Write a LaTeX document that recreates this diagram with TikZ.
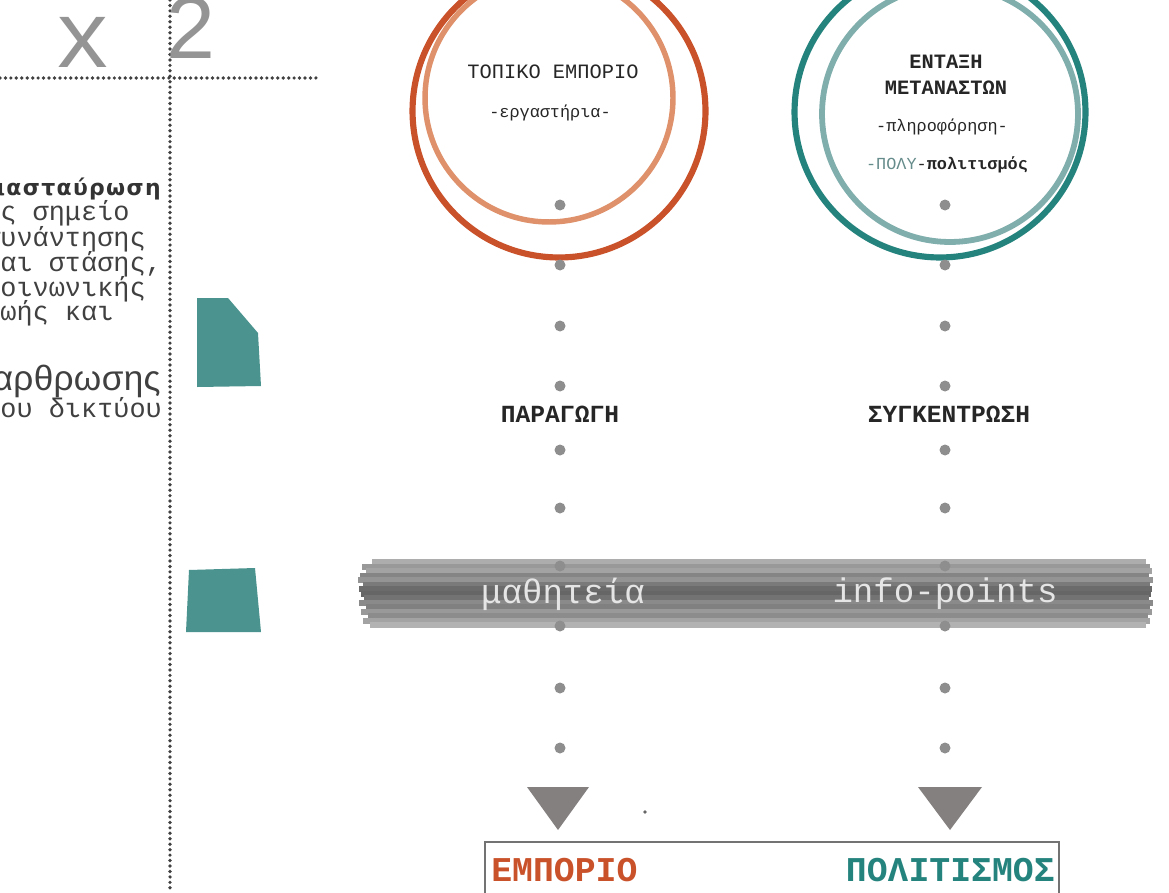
\documentclass[tikz,border=0pt]{standalone}
\usepackage{fontspec}
\setmainfont{Liberation Serif}
\setmonofont{Liberation Mono}
\newfontfamily\boldsans[LetterSpace=6]{DejaVu Sans}
\newfontfamily\widesans[LetterSpace=1]{Liberation Sans}
\newfontfamily\plainsans{Liberation Sans}

\definecolor{rust}{HTML}{C9522B}
\definecolor{salmon}{HTML}{DE916A}
\definecolor{migteal}{HTML}{25837E}
\definecolor{paleteal}{HTML}{7FAEAD}
\definecolor{blockteal}{HTML}{4B938E}
\definecolor{dotgray}{HTML}{8E8E8E}
\definecolor{trigray}{HTML}{858080}

\begin{document}
\begin{tikzpicture}[x=0.02cm,y=-0.02cm,
  gridline/.style={line width=2.1pt,line cap=round,dash pattern=on 0pt off 3.1pt,draw=black!75},
  gdot/.style={circle,fill=dotgray,inner sep=0pt,minimum size=0.22cm},
  ringtext/.style={font=\ttfamily\fontsize{11.6}{13}\selectfont,text=black!85,inner sep=0pt},
  ringsub/.style={font=\ttfamily\fontsize{9.6}{11}\selectfont,text=black!85,inner sep=0pt},
  stage/.style={font=\ttfamily\bfseries\fontsize{14}{16}\selectfont,text=black!85,inner sep=0pt},
  bandtext/.style={font=\ttfamily\fontsize{19.4}{21}\selectfont,text=white!90!black,inner sep=0pt},
  result/.style={font=\ttfamily\bfseries\fontsize{19.8}{22}\selectfont,inner sep=0pt},
  sidetext/.style={font=\ttfamily\fontsize{15.3}{17}\selectfont,text=black!75,anchor=west,inner sep=0pt}]
\clip (0,0) rectangle (1169,892);

% grid of the sheet
\draw[gridline] (0,78) -- (320,78);
\draw[gridline] (170,0) -- (170,892);
\node[font=\ttfamily\fontsize{54}{54}\selectfont,text=black!42,inner sep=0pt] (times) at (83,42) {x};
\node[font=\plainsans\fontsize{50}{50}\selectfont,text=black!42,inner sep=0pt] (two) at (191,28) {2};

% side text
\node[font=\boldsans\bfseries\fontsize{12.5}{14}\selectfont,text=black!80,anchor=east,inner sep=0pt] (cross) at (161,189) {διασταύρωση};
\node[sidetext] (l1) at (-16,213) {ως σημείο};
\node[sidetext] (l2) at (-16,239) {συνάντησης};
\node[sidetext] (l3) at (-16,264) {και στάσης,};
\node[sidetext] (l4) at (-16,289) {κοινωνικής};
\node[sidetext] (l5) at (-16,313) {ζωής και};
\node[font=\widesans\fontsize{20}{22}\selectfont,text=black!75,anchor=east,inner sep=0pt] (l6) at (161,381) {αρθρωσης};
\node[sidetext] (l7) at (-16,408) {του δικτύου};

% teal blocks
\fill[blockteal] (197,298) -- (228,298) -- (258,333) -- (261,386) -- (197,387) -- cycle;
\fill[blockteal] (189,570) -- (255,568) -- (261,632) -- (186,632) -- cycle;

% rings
\draw[rust,line width=3.5pt] (559,111) circle [radius=2.93cm];
\draw[salmon,line width=3.1pt] (549,98) circle [radius=2.48cm];
\draw[migteal,line width=3.5pt] (940,112) circle [radius=2.91cm];
\draw[paleteal,line width=3.3pt] (950,114) circle [radius=2.56cm];

\node[ringtext] (topiko) at (553,72) {ΤΟΠΙΚΟ ΕΜΠΟΡΙΟ};
\node[ringsub] (ergast) at (550,113) {-εργαστήρια-};
\node[ringtext,font=\ttfamily\bfseries\fontsize{11.6}{13}\selectfont] (entaxi) at (946,62) {ΕΝΤΑΞΗ};
\node[ringtext,font=\ttfamily\bfseries\fontsize{11.6}{13}\selectfont] (metan) at (946,88) {ΜΕΤΑΝΑΣΤΩΝ};
\node[ringsub] (pliro) at (942,127) {-πληροφόρηση-};
\node[ringsub] (polit) at (947,165) {\textcolor{paleteal!80!black}{-ΠΟΛΥ}-\textbf{πολιτισμός}};

% band
\foreach \yy/\gr/\xa/\xb in {562/32/372/1146,567/40/362/1150,571/36/366/1152,576/48/360/1149,
  580/42/358/1153,585/52/363/1150,589/58/359/1152,594/60/361/1151,598/55/364/1149,
  603/46/359/1153,607/50/366/1150,612/40/361/1152,616/45/368/1148,621/36/363/1150,625/30/370/1146}
  \draw[black!\gr,line width=2.9pt] (\xa,\yy) -- (\xb,\yy);
\node[bandtext] (mathiteia) at (563,594) {μαθητεία};
\node[bandtext] (infop) at (945,594) {info-points};

% columns of dots
\foreach \yy [count=\i] in {205,265,326,386,450,508,566,626,688,748} {
  \node[gdot] (a\i) at (560,\yy) {};
  \node[gdot] (b\i) at (945,\yy) {};
}
\node[stage] (parag) at (560,414) {ΠΑΡΑΓΩΓΗ};
\node[stage] (sygk) at (949,414) {ΣΥΓΚΕΝΤΡΩΣΗ};

% heads
\coordinate (tipa) at (558,830);
\coordinate (tipb) at (950,830);
\fill[trigray] (tipa) -- ++(-31,-43) -- ++(62,0) -- cycle;
\fill[trigray] (tipb) -- ++(-32,-43) -- ++(64,0) -- cycle;
\fill[black!60] (645,812) circle [radius=1.1pt];

% result box
\draw[black!55,line width=1.4pt] (485,900) |- (1059,842) -- (1059,900);
\node[result,text=rust,anchor=west] (empor) at (491,870) {ΕΜΠΟΡΙΟ};
\node[result,text=migteal,anchor=east] (politism) at (1055,870) {ΠΟΛΙΤΙΣΜΟΣ};
\end{tikzpicture}
\end{document}
